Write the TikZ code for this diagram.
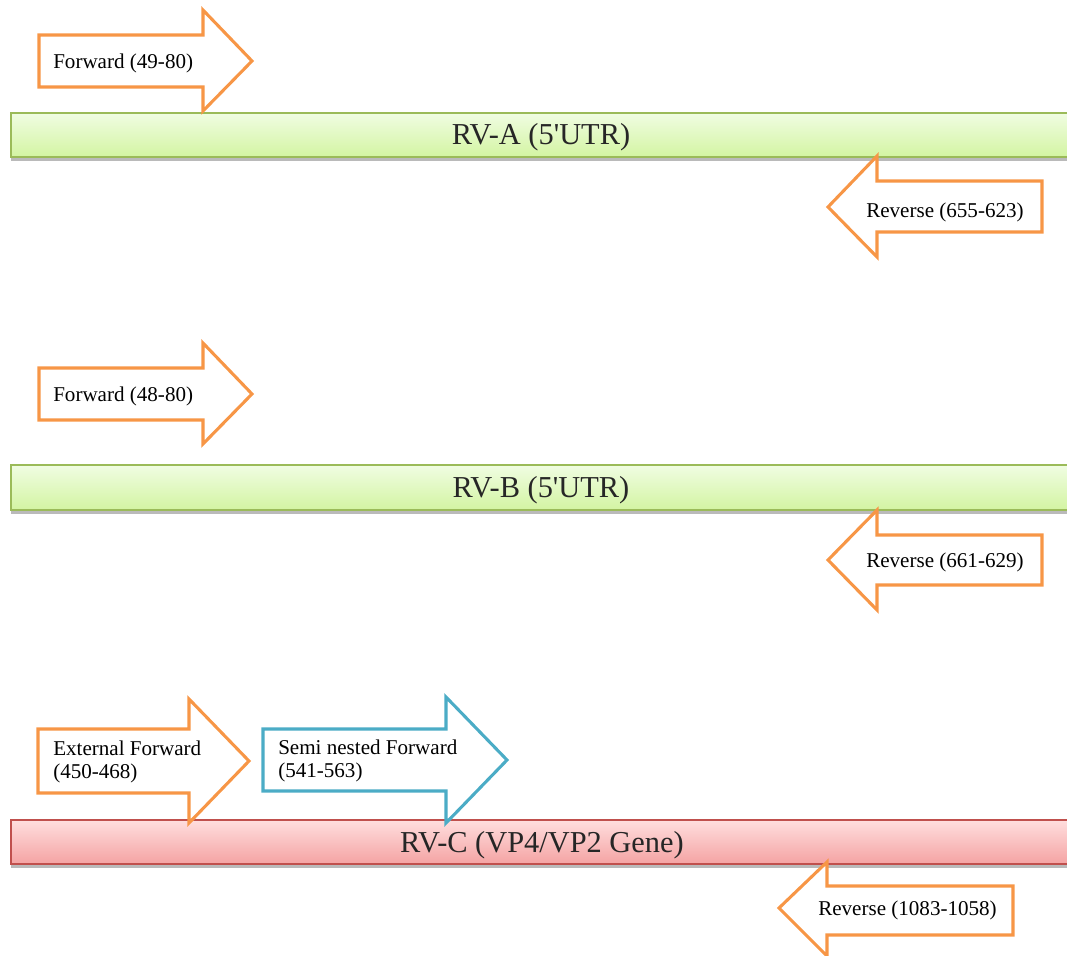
\documentclass[tikz,border=0pt]{standalone}
\usepackage{fontspec}
\setmainfont{Liberation Serif}
\usetikzlibrary{shadows}
\definecolor{aorange}{HTML}{F79646}
\definecolor{ablue}{HTML}{4BACC6}
\definecolor{gborder}{HTML}{9BBB59}
\definecolor{gtop}{HTML}{F0FDE2}
\definecolor{gbot}{HTML}{D3F4A2}
\definecolor{rborder}{HTML}{C0504D}
\definecolor{rtop}{HTML}{FFDEDE}
\definecolor{rbot}{HTML}{F4A3A3}
\tikzset{
  primer/.style={draw=aorange, line width=2.3pt, fill=white, line join=miter},
  primerblue/.style={draw=ablue, line width=2.3pt, fill=white, line join=miter},
  barshadow/.style={drop shadow={shadow xshift=0pt, shadow yshift=-3pt, opacity=0.45, fill=black!60}},
  greenbar/.style={draw=gborder, line width=1.2pt, top color=gtop, bottom color=gbot, barshadow},
  redbar/.style={draw=rborder, line width=1.2pt, top color=rtop, bottom color=rbot, barshadow},
  lbl/.style={font=\fontsize{15.8}{17.5}\selectfont, inner sep=0pt, text=black},
  barlbl/.style={font=\fontsize{22.8}{24}\selectfont, inner sep=0pt, text=black!85}
}
\begin{document}
\begin{tikzpicture}[x=0.75pt, y=-0.75pt]
\useasboundingbox (0,0) rectangle (1067,956);
\clip (0,0) rectangle (1067,956);
% RV-A
\path[greenbar] (11,113) rectangle (1080,157);
\node[barlbl] (rva) at (541,137) {RV-A (5\textquotesingle UTR)};
\draw[primer] (39,35) -- (203,35) -- (203,10) -- (252,61) -- (203,111) -- (203,87) -- (39,87) -- cycle;
\node[lbl, anchor=west] (fa) at (53,63) {Forward (49-80)};
\draw[primer] (828,207) -- (877,156) -- (877,181) -- (1042,181) -- (1042,232) -- (877,232) -- (877,257) -- cycle;
\node[lbl, anchor=west] (ra) at (866,212) {Reverse (655-623)};
% RV-B
\path[greenbar] (11,465) rectangle (1080,510);
\node[barlbl] (rvb) at (541,490) {RV-B (5\textquotesingle UTR)};
\draw[primer] (39,368) -- (203,368) -- (203,343) -- (252,394) -- (203,444) -- (203,420) -- (39,420) -- cycle;
\node[lbl, anchor=west] (fb) at (53,396) {Forward (48-80)};
\draw[primer] (828,560) -- (877,510) -- (877,535) -- (1042,535) -- (1042,585) -- (877,585) -- (877,610) -- cycle;
\node[lbl, anchor=west] (rb) at (866,562) {Reverse (661-629)};
% RV-C
\path[redbar] (11,820) rectangle (1080,864);
\node[barlbl] (rvc) at (542,845) {RV-C (VP4/VP2 Gene)};
\draw[primer] (38,729) -- (189,729) -- (189,699) -- (249,761) -- (189,823) -- (189,793) -- (38,793) -- cycle;
\node[lbl, anchor=west, align=left] (ef) at (53,762) {External Forward\\(450-468)};
\draw[primerblue] (263,729) -- (446,729) -- (446,697) -- (507,760) -- (446,823) -- (446,791) -- (263,791) -- cycle;
\node[lbl, anchor=west, align=left] (sf) at (278,761) {Semi nested Forward\\(541-563)};
\draw[primer] (779,908) -- (827,862) -- (827,886) -- (1013,886) -- (1013,935) -- (827,935) -- (827,956) -- cycle;
\node[lbl, anchor=west] (rc) at (818,910) {Reverse (1083-1058)};
\end{tikzpicture}
\end{document}
